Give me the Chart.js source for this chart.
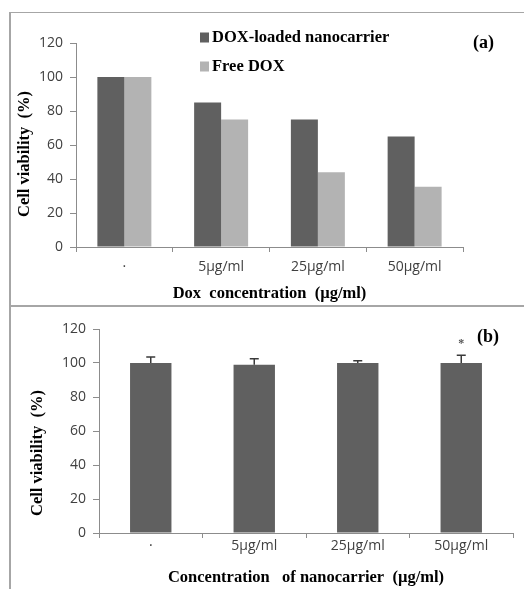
<!DOCTYPE html>
<html>
<head>
<meta charset="utf-8">
<script src="https://cdn.jsdelivr.net/npm/chart.js@4.4.1/dist/chart.umd.min.js"></script>
<style>
  html, body { margin: 0; padding: 0; background: #fff; }
  #page { position: relative; width: 524px; height: 589px; overflow: hidden; background: #fff; }
  #page canvas { position: absolute; left: 0; }
  .rule { position: absolute; background: #a6a6a6; }
</style>
</head>
<body>
<div id="page">
  <div class="rule" style="left:9px; top:12px; width:515px; height:1px;"></div>
  <div class="rule" style="left:9px; top:12px; width:2px; height:577px;"></div>
  <div class="rule" style="left:9px; top:305px; width:515px; height:2px;"></div>
  <canvas id="chartA" width="524" height="305" style="top:0"></canvas>
  <canvas id="chartB" width="524" height="282" style="top:307px"></canvas>
</div>
<script>
// panel (a): viability vs dox concentration
const concLabels = ['·', '5µg/ml', '25µg/ml', '50µg/ml'];
const loadedViability = [100, 85, 75, 65];
const freeViability = [100, 75, 44, 35.5];

// panel (b): viability vs nanocarrier concentration
const carrierLabels = ['·', '5µg/ml', '25µg/ml', '50µg/ml'];
const carrierViability = [100, 99, 100, 100];
const carrierError = [3.5, 3.5, 1.3, 4.5];
const carrierMarks = ['', '', '', '*'];

const DARK = '#606060';
const LIGHT = '#b3b3b3';
const AXIS = '#8c8c8c';
const tickFont = { family: '"Open Sans", sans-serif', size: 14 };
const serifBold = 'bold 16.5px "Liberation Serif", "Times New Roman", serif';

// draws panel text that sits outside the scales: y title, panel tag, legend
const panelText = {
  id: 'panelText',
  afterDraw(chart, args, opts) {
    const ctx = chart.ctx;
    ctx.save();
    ctx.fillStyle = '#000';
    ctx.font = serifBold;
    ctx.textBaseline = 'middle';

    ctx.save();
    ctx.translate(opts.yTitle.x, opts.yTitle.y);
    ctx.rotate(-Math.PI / 2);
    ctx.textAlign = 'center';
    ctx.fillText(opts.yTitle.text, 0, 0);
    ctx.restore();

    ctx.font = 'bold 18px "Liberation Serif", "Times New Roman", serif';
    ctx.textAlign = 'left';
    ctx.fillText(opts.tag.text, opts.tag.x, opts.tag.y);

    if (opts.legend) {
      ctx.font = serifBold;
      chart.data.datasets.forEach((ds, i) => {
        const y = opts.legend.y + i * opts.legend.gap;
        ctx.fillStyle = ds.backgroundColor;
        ctx.fillRect(opts.legend.x, y - 5, 9, 10);
        ctx.fillStyle = '#000';
        ctx.fillText(ds.label, opts.legend.x + 12, y);
      });
    }
    ctx.restore();
  }
};

// upper error bars plus significance marks
const errorBars = {
  id: 'errorBars',
  afterDatasetsDraw(chart, args, opts) {
    if (!opts.errors) return;
    const ctx = chart.ctx;
    const yScale = chart.scales.y;
    const meta = chart.getDatasetMeta(0);
    const values = chart.data.datasets[0].data;
    ctx.save();
    ctx.strokeStyle = '#3a3a3a';
    ctx.lineWidth = 1.5;
    meta.data.forEach((bar, i) => {
      const top = yScale.getPixelForValue(values[i] + opts.errors[i]);
      const base = yScale.getPixelForValue(values[i]);
      ctx.beginPath();
      ctx.moveTo(bar.x, base);
      ctx.lineTo(bar.x, top);
      ctx.moveTo(bar.x - 4.5, top);
      ctx.lineTo(bar.x + 4.5, top);
      ctx.stroke();
      if (opts.marks && opts.marks[i]) {
        ctx.fillStyle = '#555';
        ctx.font = 'bold 12px "Liberation Serif", serif';
        ctx.textAlign = 'center';
        ctx.textBaseline = 'middle';
        ctx.fillText(opts.marks[i], bar.x, top - 11);
      }
    });
    ctx.restore();
  }
};

function yAxis(width) {
  return {
    min: 0,
    max: 120,
    ticks: { stepSize: 20, font: tickFont, color: '#404040', padding: 7 },
    grid: { drawOnChartArea: false, tickLength: 6, color: AXIS },
    border: { color: AXIS },
    afterFit(scale) { scale.width = width; }
  };
}

function xAxis(height, tickPad, title, titlePad) {
  return {
    ticks: { font: tickFont, color: '#404040', padding: tickPad, maxRotation: 0 },
    grid: { drawOnChartArea: false, tickLength: 5, color: AXIS, offset: true },
    border: { color: AXIS },
    title: {
      display: true,
      text: title,
      color: '#000',
      font: { family: '"Liberation Serif", "Times New Roman", serif', size: 16.5, weight: 'bold' },
      padding: { top: 0, bottom: titlePad }
    },
    afterFit(scale) { scale.height = height; }
  };
}

new Chart(document.getElementById('chartA'), {
  type: 'bar',
  data: {
    labels: concLabels,
    datasets: [
      { label: 'DOX-loaded nanocarrier', data: loadedViability, backgroundColor: DARK },
      { label: 'Free DOX', data: freeViability, backgroundColor: LIGHT }
    ]
  },
  options: {
    responsive: false,
    animation: false,
    layout: { padding: { left: 0, top: 43, right: 61, bottom: 0 } },
    datasets: { bar: { categoryPercentage: 0.558, barPercentage: 1 } },
    scales: {
      x: xAxis(58, 7, 'Dox  concentration  (µg/ml)', 1),
      y: yAxis(76)
    },
    plugins: {
      legend: { display: false },
      tooltip: { enabled: false },
      panelText: {
        yTitle: { text: 'Cell viability  (%)', x: 25, y: 154 },
        tag: { text: '(a)', x: 473, y: 43 },
        legend: { x: 200, y: 37.5, gap: 29 }
      }
    }
  },
  plugins: [panelText]
});

new Chart(document.getElementById('chartB'), {
  type: 'bar',
  data: {
    labels: carrierLabels,
    datasets: [
      { label: 'Nanocarrier', data: carrierViability, backgroundColor: DARK }
    ]
  },
  options: {
    responsive: false,
    animation: false,
    layout: { padding: { left: 0, top: 22, right: 11, bottom: 0 } },
    datasets: { bar: { categoryPercentage: 0.4, barPercentage: 1 } },
    scales: {
      x: xAxis(56, 0, 'Concentration   of nanocarrier  (µg/ml)', 1),
      y: yAxis(99)
    },
    plugins: {
      legend: { display: false },
      tooltip: { enabled: false },
      panelText: {
        yTitle: { text: 'Cell viability  (%)', x: 38, y: 146 },
        tag: { text: '(b)', x: 477, y: 30 }
      },
      errorBars: { errors: carrierError, marks: carrierMarks }
    }
  },
  plugins: [panelText, errorBars]
});
</script>
</body>
</html>
